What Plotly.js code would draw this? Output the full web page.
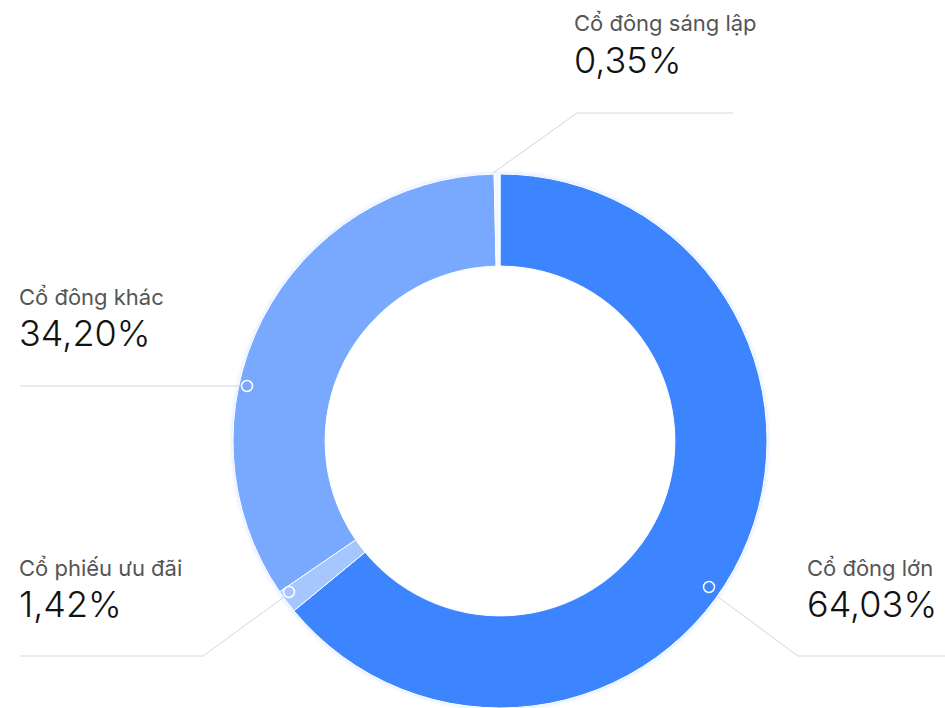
<!DOCTYPE html>
<html>
<head>
<meta charset="utf-8">
<script src="https://cdn.plot.ly/plotly-3.0.1.min.js"></script>
<style>html,body{margin:0;padding:0;background:#fff;}#chart{width:945px;height:708px;}</style>
</head>
<body>
<div id="chart"></div>
<script>
// Data
const categories = ["Cổ đông lớn", "Cổ phiếu ưu đãi", "Cổ đông khác", "Cổ đông sáng lập"];
const shares = [64.03, 1.42, 34.20, 0.35];
const percentLabels = ["64,03%", "1,42%", "34,20%", "0,35%"];
const sliceColors = ["#3d84ff", "#a6c6ff", "#79a8ff", "#f3f7ff"];

const W = 945, H = 708;
const px = x => x / W;
const py = y => 1 - y / H;

// Donut geometry (pixels)
const cx = 500, cy = 441, R = 267;

// Callout layout (pixels): marker point, leader path, text position
const callouts = [
  {marker:[709,587], path:[[718,597],[798,656],[945,656]], tx:808, ly:568, vy:604},
  {marker:[289,592], path:[[284,597],[203,656],[20,656]], tx:20, ly:568, vy:604},
  {marker:[247,386], path:[[240,386],[20,386]], tx:20, ly:297, vy:333},
  {marker:null, path:[[493,173],[577,113],[733,113]], tx:575, ly:23, vy:60}
];

const shapes = [];
// soft glow around donut
[[8, 'rgba(61,132,255,0.035)'], [4, 'rgba(61,132,255,0.06)']].forEach(g => {
  shapes.push({type:'circle', xref:'paper', yref:'paper', layer:'below',
    x0:px(cx-R), x1:px(cx+R), y0:py(cy+R), y1:py(cy-R),
    line:{color:g[1], width:g[0]}, fillcolor:'rgba(0,0,0,0)'});
});

const annotations = [];
callouts.forEach((c, i) => {
  for (let k = 0; k < c.path.length - 1; k++) {
    shapes.push({type:'line', xref:'paper', yref:'paper',
      x0:px(c.path[k][0]), y0:py(c.path[k][1]), x1:px(c.path[k+1][0]), y1:py(c.path[k+1][1]),
      line:{color:'#d6d6d6', width:1}});
  }
  if (c.marker) {
    const r = 5.5;
    shapes.push({type:'circle', xref:'paper', yref:'paper',
      x0:px(c.marker[0]-r), x1:px(c.marker[0]+r), y0:py(c.marker[1]+r), y1:py(c.marker[1]-r),
      line:{color:'#ffffff', width:1.5}, fillcolor:'rgba(0,0,0,0)'});
  }
  annotations.push({xref:'paper', yref:'paper', x:px(c.tx - 3), y:py(c.ly), xanchor:'left', yanchor:'middle',
    showarrow:false, text:categories[i], font:{family:'Inter, sans-serif', size:22, color:'#555555'}});
  annotations.push({xref:'paper', yref:'paper', x:px(c.tx - 3), y:py(c.vy), xanchor:'left', yanchor:'middle',
    showarrow:false, text:percentLabels[i], font:{family:'Inter, sans-serif', size:36, color:'#111111', weight:300}});
});

const trace = {
  type:'pie',
  labels:categories,
  values:shares,
  hole:0.655,
  sort:false,
  direction:'clockwise',
  rotation:0,
  textinfo:'none',
  hoverinfo:'label+percent',
  marker:{colors:sliceColors, line:{color:'#ffffff', width:1}},
  domain:{x:[px(cx-R), px(cx+R)], y:[py(cy+R), py(cy-R)]},
  showlegend:false
};

Plotly.newPlot('chart', [trace], {
  width:W, height:H,
  margin:{l:0, r:0, t:0, b:0},
  paper_bgcolor:'#ffffff',
  plot_bgcolor:'#ffffff',
  showlegend:false,
  shapes:shapes,
  annotations:annotations
}, {displayModeBar:false, staticPlot:true});
</script>
</body>
</html>
